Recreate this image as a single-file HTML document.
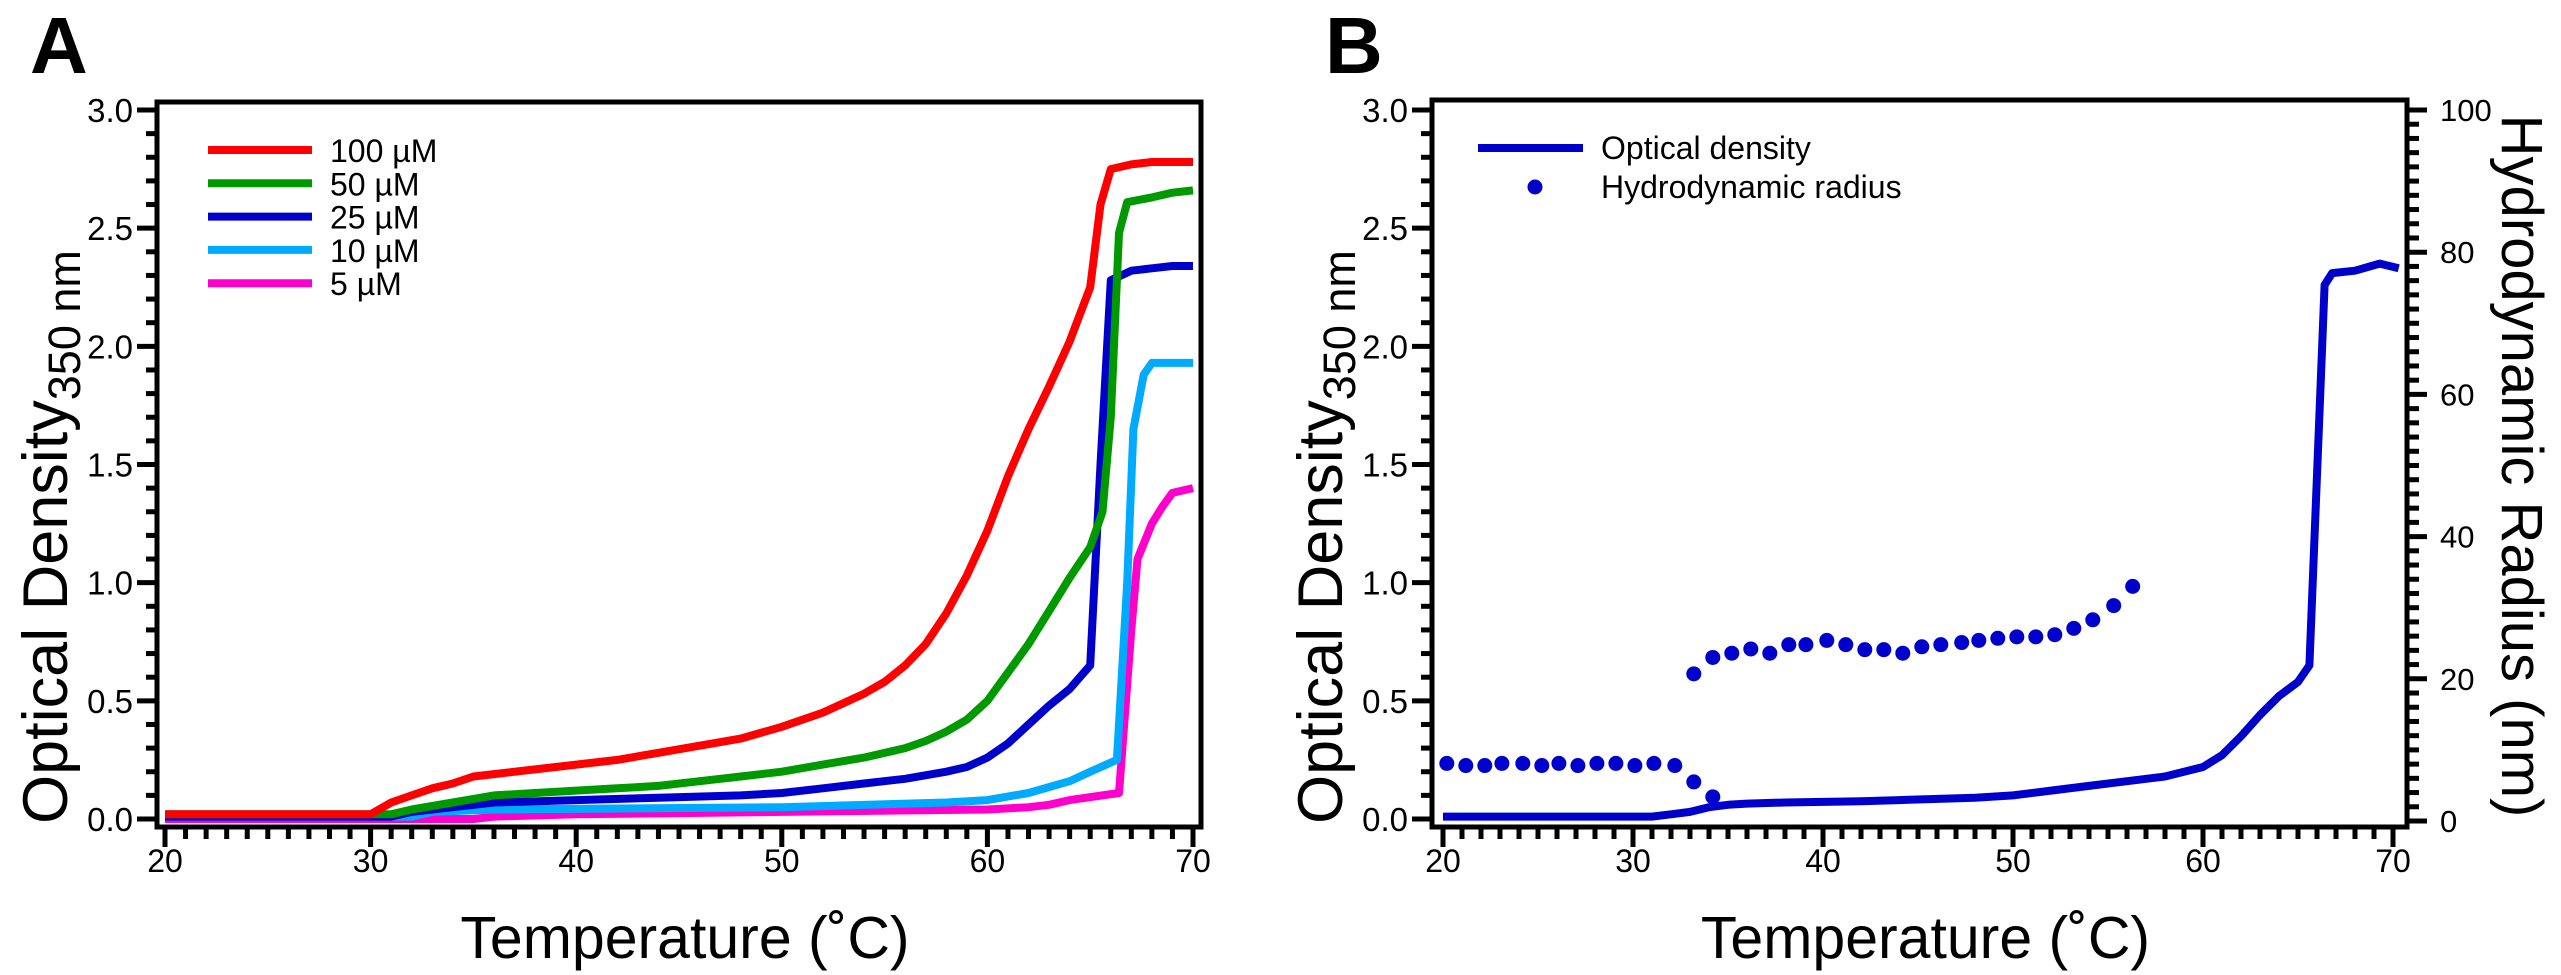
<!DOCTYPE html>
<html><head><meta charset="utf-8"><style>
html,body{margin:0;padding:0;background:#fff;}
svg{display:block;font-family:"Liberation Sans",Arial,sans-serif;}
</style></head><body>
<svg id="fig" width="2561" height="975" viewBox="0 0 2561 975" xmlns="http://www.w3.org/2000/svg">
<text x="30" y="73" font-size="80" font-weight="bold">A</text>
<text x="1325" y="73" font-size="80" font-weight="bold">B</text>
<g id="pa"></g>
<g id="pb"></g>
</svg>
<script>
// ---- Panel A data ----
const aSeriesNames = ["5 µM","10 µM","25 µM","50 µM","100 µM"];
const aColors = ["#ff00cc","#00aaff","#0000cc","#009900","#ff0000"];
const t5 = [20,35,36,40,50,60,62,63,64,66.4,67,67.3,68,68.5,69,70];
const v5 = [0,0,0.01,0.02,0.03,0.04,0.05,0.06,0.08,0.11,0.8,1.1,1.25,1.32,1.38,1.4];
const t10 = [20,32,33,36,50,58,60,62,64,65,66.3,66.8,67.1,67.6,68,70];
const v10 = [0.01,0.01,0.03,0.04,0.05,0.07,0.08,0.11,0.16,0.2,0.25,1.0,1.65,1.88,1.93,1.93];
const t25 = [20,31,32,34,36,40,44,48,50,52,54,56,58,59,60,61,62,63,64,65,65.5,66,67,68,69,70];
const v25 = [0.01,0.01,0.03,0.05,0.07,0.08,0.09,0.1,0.11,0.13,0.15,0.17,0.2,0.22,0.26,0.32,0.4,0.48,0.55,0.65,1.5,2.28,2.32,2.33,2.34,2.34];
const t50 = [20,31,32,34,36,38,40,42,44,46,48,50,52,54,56,57,58,59,60,61,62,63,64,65,65.6,66,66.4,66.8,68,69,70];
const v50 = [0.02,0.02,0.04,0.07,0.1,0.11,0.12,0.13,0.14,0.16,0.18,0.2,0.23,0.26,0.3,0.33,0.37,0.42,0.5,0.62,0.74,0.88,1.02,1.15,1.3,1.7,2.48,2.61,2.63,2.65,2.66];
const t100 = [20,30,31,32,33,34,35,36,38,40,42,44,46,48,50,52,54,55,56,57,58,59,60,61,62,63,64,65,65.5,66,67,68,69,70];
const v100 = [0.02,0.02,0.07,0.1,0.13,0.15,0.18,0.19,0.21,0.23,0.25,0.28,0.31,0.34,0.39,0.45,0.53,0.58,0.65,0.74,0.87,1.03,1.22,1.45,1.65,1.83,2.02,2.25,2.6,2.75,2.77,2.78,2.78,2.78];
const legendOrder = [4,3,2,1,0];
// ---- Panel B data ----
const bODTemps = [20,31,32,33,34,35,36,38,42,44,48,50,52,54,56,58,60,61,62,63,64,65,65.6,66.4,66.8,68,69.3,70.3];
const bODValues = [0.01,0.01,0.02,0.03,0.05,0.06,0.065,0.07,0.075,0.08,0.09,0.1,0.12,0.14,0.16,0.18,0.22,0.27,0.35,0.44,0.52,0.58,0.65,2.26,2.31,2.32,2.35,2.33];
const bRadTemps = [20.2,21.2,22.2,23.1,24.2,25.2,26.1,27.1,28.1,29.1,30.1,31.1,32.2,33.2,33.2,34.2,34.2,35.2,36.2,37.2,38.2,39.1,40.2,41.2,42.2,43.2,44.2,45.2,46.2,47.3,48.2,49.2,50.2,51.2,52.2,53.2,54.2,55.3,56.3];
const bRadValues = [8.1,7.8,7.8,8.1,8.1,7.8,8.1,7.8,8.1,8.1,7.8,8.1,7.8,5.5,20.7,3.4,23.0,23.6,24.2,23.6,24.8,24.8,25.4,24.8,24.1,24.1,23.6,24.5,24.8,25.1,25.4,25.7,25.9,25.9,26.2,27.1,28.3,30.3,33.0];
const xTickLabels = [20,30,40,50,60,70];
const odTickLabels = ["0.0","0.5","1.0","1.5","2.0","2.5","3.0"];
const radTickLabels = [0,20,40,60,80,100];

const NS="http://www.w3.org/2000/svg";
function mk(parent,tag,attrs){const e=document.createElementNS(NS,tag);for(const k in attrs)e.setAttribute(k,attrs[k]);parent.appendChild(e);return e;}

function axes(g,o){
  const X=t=>o.x20+(t-20)*(o.x70-o.x20)/50;
  const Y=v=>819-(v)*(819-110)/3;
  const fr=mk(g,'rect',{x:o.L,y:o.T,width:o.R-o.L,height:827-o.T,fill:'none',stroke:'#000','stroke-width':5});
  
  
  for(let t=20;t<=70;t++){
    const maj=(t%10===0);
    const l=mk(g,'line',{x1:X(t),x2:X(t),y1:827,y2:maj?847:839,stroke:'#000','stroke-width':5});
    
    
  }
  xTickLabels.forEach(t=>{
    const tx=mk(g,'text',{x:X(t),y:872,'font-size':32,'text-anchor':'middle'});
    tx.textContent=t;
    
    
  });
  for(let i=0;i<=30;i++){
    const v=i/10, maj=(i%5===0);
    const l=mk(g,'line',{x1:o.L,x2:o.L-(maj?20:11),y1:Y(v),y2:Y(v),stroke:'#000','stroke-width':5});
    
    
  }
  odTickLabels.forEach((s,i)=>{
    const tx=mk(g,'text',{x:o.L-24,y:Y(i*0.5)+12,'font-size':33,'text-anchor':'end'});
    tx.textContent=s;
    
    
  });
  const cx=o.L-110, cy=537;
  const yt=mk(g,'text',{x:0,y:0,'font-size':63,'text-anchor':'middle',transform:`translate(${cx+20},${cy}) rotate(-90)`});
  
  
  yt.innerHTML='Optical Density<tspan font-size="45" dy="13">350 nm</tspan>';
  const xt=mk(g,'text',{x:(o.L+o.R)/2+6,y:958,'font-size':59,'text-anchor':'middle'});
  xt.textContent='Temperature (˚C)';
  
  
  return {X,Y};
}
function poly(g,X,Y,ts,vs,color,name){
  const p=mk(g,'polyline',{points:ts.map((t,i)=>X(t).toFixed(1)+','+Y(vs[i]).toFixed(1)).join(' '),fill:'none',stroke:color,'stroke-width':8,'stroke-linejoin':'round'});
  
  
}
const ga=document.getElementById('pa');
const A=axes(ga,{L:157,R:1201,T:102,x20:165,x70:1193});
const aT=[t5,t10,t25,t50,t100], aV=[v5,v10,v25,v50,v100];
aT.forEach((ts,i)=>poly(ga,A.X,A.Y,ts,aV[i],aColors[i],'series-'+aSeriesNames[i].replace(' µM','um')));
legendOrder.forEach((si,k)=>{
  const y=150+k*33.3;
  const l=mk(ga,'line',{x1:208,x2:312,y1:y,y2:y,stroke:aColors[si],'stroke-width':8});
  
  
  const t=mk(ga,'text',{x:330,y:y+12,'font-size':32});
  t.textContent=aSeriesNames[si];
  
  
});
const gb=document.getElementById('pb');
const B=axes(gb,{L:1432,R:2407,T:100,x20:1443,x70:2393});
const RY=r=>821-r*(821-110)/100;
for(let r=0;r<=100;r+=2){
  const maj=(r%20===0);
  const l=mk(gb,'line',{x1:2407,x2:2407+(maj?20:12),y1:RY(r),y2:RY(r),stroke:'#000','stroke-width':5});
  
  
}
radTickLabels.forEach(r=>{
  const t=mk(gb,'text',{x:2440,y:RY(r)+11,'font-size':31});
  t.textContent=r;
  
  
});
const rt=mk(gb,'text',{x:0,y:0,'font-size':58,'text-anchor':'middle',transform:'translate(2502,466) rotate(90)'});
rt.textContent='Hydrodynamic Radius (nm)';


poly(gb,B.X,B.Y,bODTemps,bODValues,'#0000cc','optical-density-line');
bRadTemps.forEach((t,i)=>{
  const c=mk(gb,'circle',{cx:B.X(t),cy:RY(bRadValues[i]),r:7.5,fill:'#0000cc'});
  
  
});
const bl=mk(gb,'line',{x1:1478,x2:1583,y1:148,y2:148,stroke:'#0000cc','stroke-width':8});


const bc=mk(gb,'circle',{cx:1535,cy:187,r:7.5,fill:'#0000cc'});


const bt1=mk(gb,'text',{x:1601,y:159,'font-size':32});
bt1.textContent='Optical density';


const bt2=mk(gb,'text',{x:1601,y:198,'font-size':32});
bt2.textContent='Hydrodynamic radius';


</script>
</body></html>
